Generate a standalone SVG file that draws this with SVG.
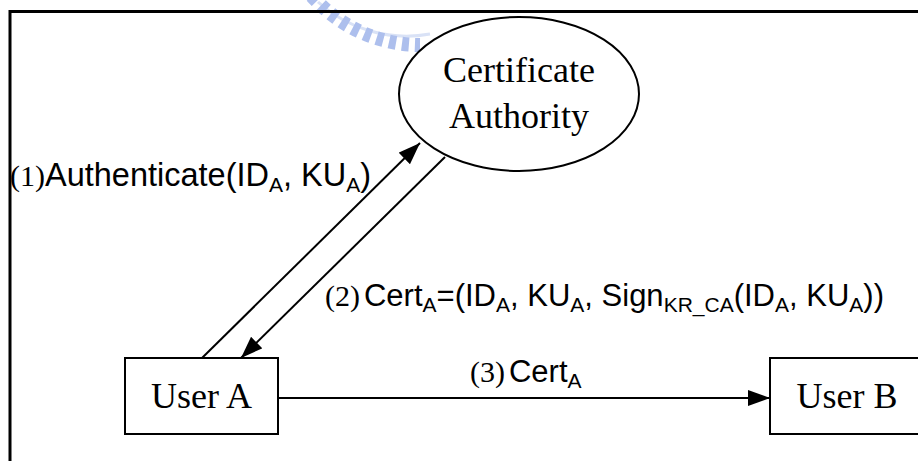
<svg xmlns="http://www.w3.org/2000/svg" width="918" height="461" viewBox="0 0 918 461">
  <defs>
    <marker id="arrow" markerUnits="userSpaceOnUse" markerWidth="24" markerHeight="18" refX="22" refY="8" orient="auto">
      <path d="M0,0 L22,8 L0,16 Z" fill="#000"/>
    </marker>
    <style>
      .node { fill: #fff; stroke: #000; stroke-width: 2; }
      .ntext { font-family: "Liberation Serif", "Times New Roman", serif; font-size: 36px; fill: #000; text-anchor: middle; }
      .edge { fill: none; stroke: #000; stroke-width: 2; marker-end: url(#arrow); }
      .lbl { font-family: "Liberation Sans", Arial, sans-serif; font-size: 31px; fill: #000; }
      .big { font-size: 32.5px; }
      .num { font-family: "Liberation Serif", "Times New Roman", serif; font-size: 30px; }
      .sub { font-size: 21px; }
      .frame { fill: none; stroke: #000; stroke-width: 3; }
    </style>
  </defs>
  <rect width="918" height="461" fill="#fff"/>

  <!-- faint seal in the page background -->
  <g id="seal" opacity="0.85">
    <path d="M318,2 A132 132 0 0 0 430,34" fill="none" stroke="#d3ddf5" stroke-width="3"/>
    <path d="M312,-4 A145 145 0 0 0 420,45" fill="none" stroke="#9fb4ea" stroke-width="14" stroke-dasharray="7 6"/>
  </g>

  <!-- page frame -->
  <path class="frame" d="M10,461 V11.5 H918"/>

  <g id="ca">
    <ellipse class="node" cx="519" cy="94" rx="120" ry="77"/>
    <text class="ntext" x="519" y="82">Certificate</text>
    <text class="ntext" x="519" y="128">Authority</text>
  </g>

  <g id="userA">
    <rect class="node" x="125" y="358" width="153" height="76"/>
    <text class="ntext" x="201.5" y="408">User A</text>
  </g>

  <g id="userB">
    <rect class="node" x="770" y="358" width="153" height="76"/>
    <text class="ntext" x="847" y="408">User B</text>
  </g>

  <g id="connectors">
    <line class="edge" x1="202" y1="358" x2="420" y2="143"/>
    <line class="edge" x1="445" y1="157" x2="241" y2="358"/>
    <line class="edge" x1="278" y1="398" x2="770" y2="398"/>
  </g>

  <g id="labels">
    <text class="lbl big" x="10" y="186"><tspan class="num">(1)</tspan>Authenticate(ID<tspan class="sub" dy="6">A</tspan><tspan dy="-6">, KU</tspan><tspan class="sub" dy="6">A</tspan><tspan dy="-6">)</tspan></text>
    <text class="lbl" x="325" y="306"><tspan class="num">(2)</tspan><tspan dx="4">Cert</tspan><tspan class="sub" dy="6">A</tspan><tspan dy="-6">=(ID</tspan><tspan class="sub" dy="6">A</tspan><tspan dy="-6">, KU</tspan><tspan class="sub" dy="6">A</tspan><tspan dy="-6">, Sign</tspan><tspan class="sub" dy="6">KR_CA</tspan><tspan dy="-6">(ID</tspan><tspan class="sub" dy="6">A</tspan><tspan dy="-6">, KU</tspan><tspan class="sub" dy="6">A</tspan><tspan dy="-6">))</tspan></text>
    <text class="lbl" x="470" y="382"><tspan class="num">(3)</tspan><tspan dx="4">Cert</tspan><tspan class="sub" dy="6">A</tspan></text>
  </g>
</svg>
